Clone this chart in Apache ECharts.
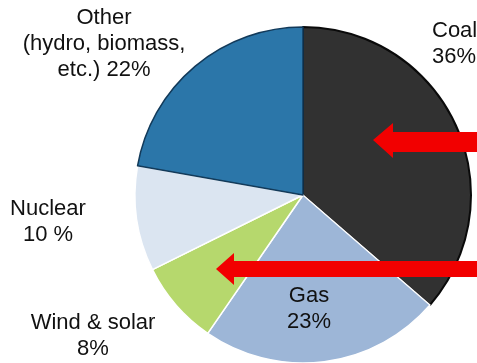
<!DOCTYPE html>
<html><head><meta charset="utf-8">
<script src="https://cdn.jsdelivr.net/npm/echarts@6/dist/echarts.min.js"></script>
<style>html,body{margin:0;padding:0;background:#fff}#c{width:477px;height:363px}</style>
</head><body><div id="c"></div>
<script>
const categories = ['Coal', 'Gas', 'Wind & solar', 'Nuclear', 'Other'];
const values = [36, 23, 8, 10, 22];
const labelTexts = ['Coal\n36%', 'Gas\n23%', 'Wind & solar\n8%', 'Nuclear\n10 %', 'Other\n(hydro, biomass,\netc.) 22%'];
const colors = ['#313131', '#9db6d7', '#b6d86d', '#dbe5f1', '#2b76a9'];
const borders = ['#0a0a0a', '#ffffff', '#ffffff', '#ffffff', '#123a5a'];
const labelPos = [[432, 44, 'left'], [309, 309, 'center'], [93, 336, 'center'], [48, 222, 'center'], [104, 44, 'center']];

const chart = echarts.init(document.getElementById('c'));
const texts = labelTexts.map((t, i) => ({
  type: 'text', x: labelPos[i][0], y: labelPos[i][1], z: 10,
  style: { text: t, fill: '#111111', font: '22px "Liberation Sans", Arial, sans-serif',
    textAlign: labelPos[i][2], textVerticalAlign: 'middle', lineHeight: 26 }
}));
const arrows = [
  { type: 'polygon', z: 20, shape: { points: [[373,140],[393,123],[393,132],[477,132],[477,152],[393,152],[393,158]] }, style: { fill: '#f20000' } },
  { type: 'polygon', z: 20, shape: { points: [[216,269],[234,253],[234,261],[477,261],[477,277],[234,277],[234,285]] }, style: { fill: '#f20000' } }
];
chart.setOption({
  animation: false,
  backgroundColor: '#ffffff',
  series: [{
    type: 'pie', center: [303, 195], radius: 168, startAngle: 90, clockwise: true,
    label: { show: false }, labelLine: { show: false },
    data: categories.map((c, i) => ({ name: c, value: values[i],
      itemStyle: { color: colors[i], borderColor: borders[i], borderWidth: i === 0 ? 2 : 1.5 } }))
  }],
  graphic: texts.concat(arrows)
});
</script></body></html>
